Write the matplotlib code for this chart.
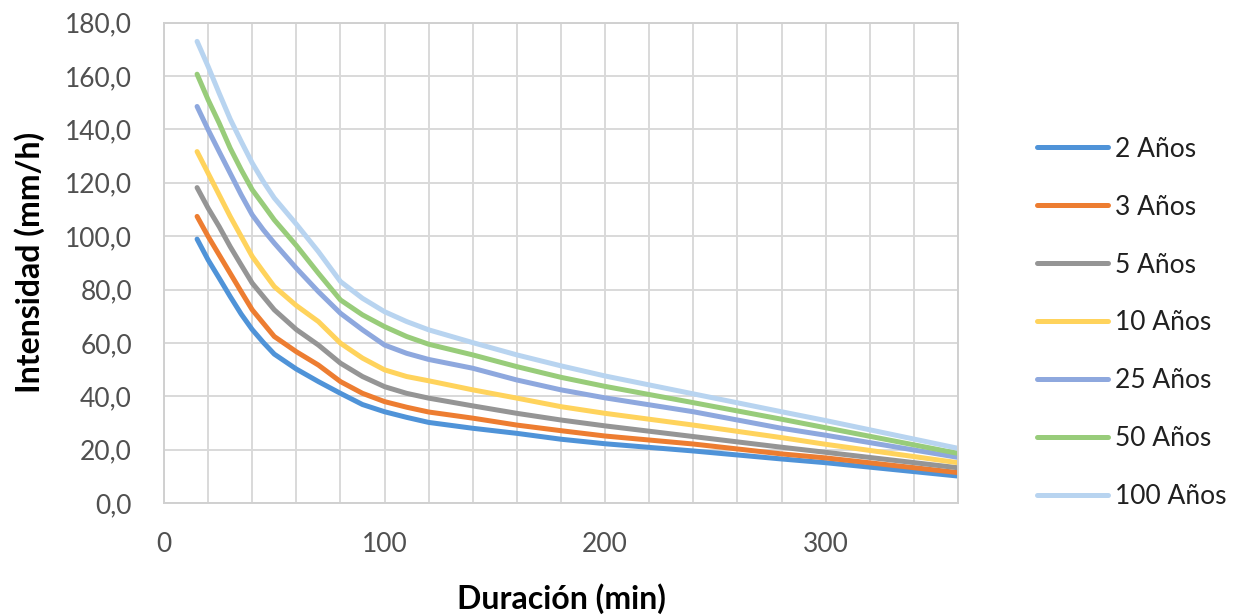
import matplotlib
matplotlib.use("Agg")
import matplotlib.pyplot as plt
from matplotlib.ticker import MultipleLocator, FixedLocator, FuncFormatter

plt.rcParams['font.family'] = ['Lato', 'DejaVu Sans']

# Duración (min)
duracion = [15, 20, 25, 30, 35, 40, 45, 50, 60, 70, 80, 90, 100, 110, 120, 140, 160, 180, 200, 240, 280, 300, 360]

# Intensidad (mm/h) por periodo de retorno
i_2 = [98.9, 91.1, 84.3, 77.4, 70.8, 65.0, 60.2, 55.8, 50.2, 45.5, 41.1, 36.9, 34.2, 32.1, 30.2, 28.0, 26.1, 23.9, 22.2, 19.5, 16.5, 15.1, 10.1]
i_3 = [107.4, 99.9, 93.0, 86.1, 79.2, 72.4, 67.4, 62.4, 56.7, 51.7, 45.5, 41.1, 38.0, 35.9, 34.1, 31.8, 29.2, 27.1, 25.1, 22.1, 18.4, 16.9, 11.4]
i_5 = [118.2, 110.5, 103.6, 96.1, 89.2, 82.4, 77.4, 72.4, 65.0, 59.2, 52.4, 47.4, 43.6, 41.1, 39.3, 36.4, 33.6, 31.1, 28.9, 24.9, 20.9, 19.0, 13.2]
i_10 = [131.7, 123.6, 115.5, 107.4, 99.9, 92.4, 86.7, 81.1, 74.0, 68.0, 59.9, 54.3, 49.9, 47.4, 45.8, 42.4, 39.3, 36.1, 33.6, 29.2, 24.5, 22.0, 15.1]
i_25 = [148.6, 139.9, 131.7, 123.6, 115.5, 108.0, 102.4, 97.4, 88.0, 79.2, 71.1, 64.9, 59.2, 56.1, 53.8, 50.5, 46.1, 42.4, 39.4, 34.2, 28.0, 25.4, 17.1]
i_50 = [160.7, 151.1, 142.4, 133.0, 124.9, 117.4, 111.8, 106.1, 96.5, 86.1, 76.1, 70.5, 66.1, 62.4, 59.5, 55.5, 51.1, 47.1, 43.7, 37.6, 31.4, 28.2, 18.6]
i_100 = [173.0, 163.6, 153.6, 143.9, 135.5, 127.4, 120.5, 114.3, 104.5, 94.2, 83.0, 76.7, 71.7, 68.0, 64.9, 60.1, 55.5, 51.4, 47.6, 40.9, 34.2, 30.9, 20.5]

series_labels = ["2 Años", "3 Años", "5 Años", "10 Años", "25 Años", "50 Años", "100 Años"]
series_values = [i_2, i_3, i_5, i_10, i_25, i_50, i_100]
colors = ["#4F93D8", "#ED7D31", "#959595", "#FFD35C", "#8EA8DE", "#98CC7A", "#B8D4F0"]

x_ticks = [0, 100, 200, 300]
y_ticks = [0, 20, 40, 60, 80, 100, 120, 140, 160, 180]

fig = plt.figure(figsize=(12.38, 6.16), dpi=100)
ax = fig.add_axes([164/1238, 1 - 503/616, (958-164)/1238, (503-22.7)/616])

for lab, vals, col in zip(series_labels, series_values, colors):
    ax.plot(duracion, vals, color=col, lw=3.6, label=lab, solid_capstyle='round', solid_joinstyle='round')

ax.set_xlim(0, 360)
ax.set_ylim(0, 180)
ax.xaxis.set_major_locator(FixedLocator(x_ticks))
ax.xaxis.set_minor_locator(MultipleLocator(20))
ax.yaxis.set_major_locator(FixedLocator(y_ticks))
ax.yaxis.set_major_formatter(FuncFormatter(lambda v, p: f"{v:.1f}".replace('.', ',')))

ax.grid(True, which='both', color='#D9D9D9', lw=1.4)
ax.set_axisbelow(True)
ax.tick_params(which='both', length=0, labelsize=19, labelcolor='#505050')
ax.tick_params(axis='y', pad=23)
ax.tick_params(axis='x', pad=21)
for s in ax.spines.values():
    s.set_color('#D0D0D0')
    s.set_linewidth(1.4)

ax.set_xlabel("Duración (min)", fontsize=23, fontweight='bold', labelpad=19)
ax.set_ylabel("Intensidad (mm/h)", fontsize=23, fontweight='bold', labelpad=14)

leg = fig.legend(loc='center left', bbox_to_anchor=(1026/1238, 1 - 323/616), frameon=False,
                 fontsize=19, handlelength=2.7, handletextpad=0.27, labelspacing=1.25,
                 borderaxespad=0)
for t in leg.get_texts():
    t.set_color('#202020')

fig.savefig("out.png", dpi=100, facecolor='white')
